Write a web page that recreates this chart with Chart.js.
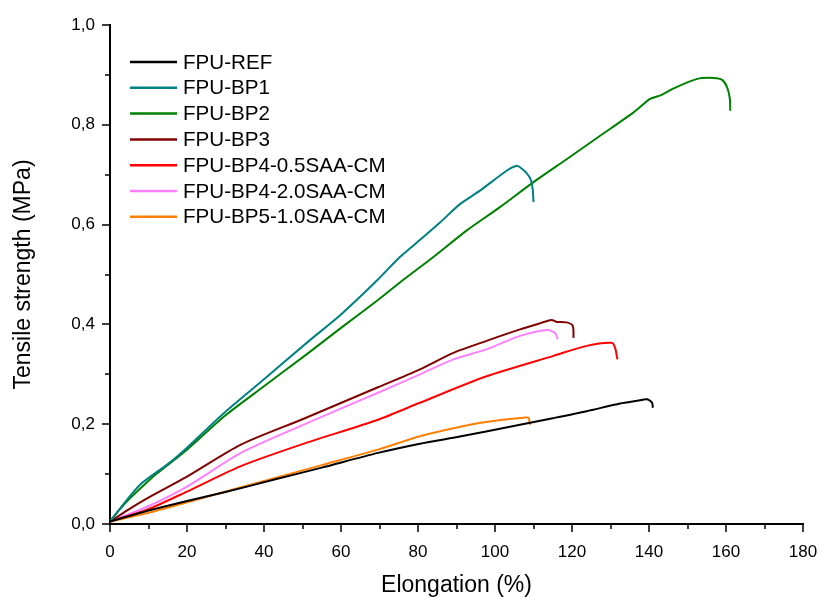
<!DOCTYPE html>
<html>
<head>
<meta charset="utf-8">
<script src="https://cdn.jsdelivr.net/npm/chart.js@4.4.1/dist/chart.umd.min.js"></script>
<style>
  html, body { margin: 0; padding: 0; background: #fff; }
</style>
</head>
<body>
<canvas id="myChart" width="822" height="599"></canvas>
<script>
// series labels and colours
const seriesNames = ['FPU-REF', 'FPU-BP1', 'FPU-BP2', 'FPU-BP3', 'FPU-BP4-0.5SAA-CM', 'FPU-BP4-2.0SAA-CM', 'FPU-BP5-1.0SAA-CM'];
const seriesColors = ['#000000', '#008080', '#008000', '#800000', '#ff0000', '#ff80ff', '#ff8000'];

// elongation (%) / tensile strength (MPa)
const refX = [0, 5, 10, 20, 30, 42.7, 55, 69.6, 80.5, 89.2, 98, 106.5, 115, 123.8, 132.5, 137, 139.5, 140.8, 141];
const refY = [0.005, 0.016, 0.027, 0.046, 0.064, 0.089, 0.113, 0.1425, 0.161, 0.173, 0.186, 0.199, 0.212, 0.226, 0.2416, 0.247, 0.25, 0.243, 0.233];

const bp1X = [0, 3, 8, 15, 20, 29.7, 40, 51.4, 60, 69.6, 75.3, 81.4, 85.7, 90.9, 96.1, 103, 105.6, 106.5, 108.2, 109.3, 109.8, 110];
const bp1Y = [0.005, 0.035, 0.08, 0.12, 0.153, 0.223, 0.29, 0.365, 0.42, 0.49, 0.535, 0.575, 0.604, 0.641, 0.668, 0.708, 0.718, 0.715, 0.703, 0.69, 0.67, 0.645];

const bp2X = [0, 2.6, 5, 8, 12, 20, 29.7, 40, 51.4, 60, 69.6, 75.3, 84, 92.6, 101.3, 110, 118.6, 127.3, 136, 140.3, 143, 146.4, 152.5, 156.8, 159, 160.3, 161, 161.1];
const bp2Y = [0.005, 0.03, 0.05, 0.072, 0.1, 0.149, 0.216, 0.276, 0.342, 0.393, 0.449, 0.484, 0.535, 0.588, 0.635, 0.685, 0.731, 0.778, 0.825, 0.852, 0.859, 0.873, 0.892, 0.894, 0.89, 0.875, 0.852, 0.828];

const bp3X = [0, 5, 9.75, 20, 34, 50, 69.6, 80.5, 89.2, 97.8, 106.5, 112, 114.7, 116, 118.6, 120.2, 120.4];
const bp3Y = [0.005, 0.03, 0.052, 0.095, 0.159, 0.21, 0.274, 0.31, 0.343, 0.367, 0.39, 0.403, 0.409, 0.405, 0.404, 0.397, 0.373];

const bp4aX = [0, 9.75, 20, 34, 50, 69.6, 80.5, 97.8, 115.2, 123.8, 130.3, 131.2, 131.8];
const bp4aY = [0.005, 0.029, 0.065, 0.116, 0.16, 0.209, 0.243, 0.296, 0.337, 0.357, 0.363, 0.353, 0.33];

const bp4bX = [0, 9.75, 20, 34, 50, 69.6, 80.5, 89.2, 97.8, 106.5, 113.4, 115.6, 116.3];
const bp4bY = [0.005, 0.035, 0.075, 0.1425, 0.198, 0.263, 0.30, 0.33, 0.35, 0.377, 0.389, 0.383, 0.37];

const bp5X = [0, 9.75, 25.4, 42.7, 55, 69.6, 80.5, 93.5, 100, 107.4, 108.7, 109.1];
const bp5Y = [0.005, 0.022, 0.055, 0.092, 0.118, 0.149, 0.176, 0.199, 0.207, 0.213, 0.213, 0.199];

// axis ticks
const xTicks = [0, 20, 40, 60, 80, 100, 120, 140, 160, 180];
const yTicks = [0, 0.2, 0.4, 0.6, 0.8, 1.0];

const allX = [refX, bp1X, bp2X, bp3X, bp4aX, bp4bX, bp5X];
const allY = [refY, bp1Y, bp2Y, bp3Y, bp4aY, bp4bY, bp5Y];

const fontName = "'Liberation Sans', Arial, sans-serif";

const datasets = seriesNames.map((name, i) => ({
  label: name,
  data: allX[i].map((x, j) => ({ x: x, y: allY[i][j] })),
  borderColor: seriesColors[i],
  backgroundColor: seriesColors[i],
  borderWidth: 2,
  pointRadius: 0,
  showLine: true,
  tension: 0.25,
  fill: false
}));

// outward major/minor tick marks
const tickMarks = {
  id: 'tickMarks',
  afterDraw(chart) {
    const ctx = chart.ctx;
    const xs = chart.scales.x, ys = chart.scales.y;
    ctx.save();
    ctx.strokeStyle = '#000';
    ctx.lineWidth = 1.5;
    ctx.beginPath();
    for (let v = xTicks[0]; v <= xTicks[xTicks.length - 1]; v += 10) {
      const px = Math.round(xs.getPixelForValue(v));
      const len = xTicks.includes(v) ? 8 : 5;
      ctx.moveTo(px, ys.bottom);
      ctx.lineTo(px, ys.bottom + len);
    }
    for (let k = 0; k <= 10; k++) {
      const v = k / 10;
      const py = Math.round(ys.getPixelForValue(v));
      const len = k % 2 === 0 ? 8 : 5;
      ctx.moveTo(xs.left, py);
      ctx.lineTo(xs.left - len, py);
    }
    ctx.stroke();
    ctx.restore();
  }
};

// legend drawn inside the plot, top-left
const innerLegend = {
  id: 'innerLegend',
  afterDraw(chart) {
    const ctx = chart.ctx;
    ctx.save();
    ctx.font = '20.6px ' + fontName;
    ctx.textBaseline = 'middle';
    ctx.textAlign = 'left';
    chart.data.datasets.forEach((ds, i) => {
      const y = 62 + i * 25.8;
      ctx.strokeStyle = ds.borderColor;
      ctx.lineWidth = 2.5;
      ctx.beginPath();
      ctx.moveTo(130, y);
      ctx.lineTo(177, y);
      ctx.stroke();
      ctx.fillStyle = '#000';
      ctx.fillText(ds.label, 183, y + 1);
    });
    ctx.restore();
  }
};

const comma = v => Number(v).toFixed(1).replace('.', ',');

const config = {
  type: 'scatter',
  data: { datasets: datasets },
  options: {
    responsive: false,
    animation: false,
    layout: { padding: { top: 25, right: 19, left: 0, bottom: 0 } },
    plugins: {
      legend: { display: false },
      tooltip: { enabled: false }
    },
    scales: {
      x: {
        type: 'linear',
        min: 0,
        max: 180,
        afterFit: s => { s.height = 75; s.paddingLeft = 0; s.paddingRight = 0; },
        afterBuildTicks: s => { s.ticks = xTicks.map(v => ({ value: v })); },
        ticks: {
          color: '#000',
          font: { family: fontName, size: 17 },
          padding: 18,
          maxRotation: 0,
          callback: v => String(v)
        },
        grid: { display: true, drawOnChartArea: false, drawTicks: false },
        border: { display: true, color: '#000', width: 2 },
        title: {
          display: true,
          text: 'Elongation (%)',
          color: '#000',
          font: { family: fontName, size: 23 },
          padding: { top: 0, bottom: 0 }
        }
      },
      y: {
        type: 'linear',
        min: 0,
        max: 1,
        afterFit: s => { s.width = 110; s.paddingTop = 0; s.paddingBottom = 0; },
        afterBuildTicks: s => { s.ticks = yTicks.map(v => ({ value: v })); },
        ticks: {
          color: '#000',
          font: { family: fontName, size: 17 },
          padding: 15,
          callback: v => comma(v)
        },
        grid: { display: true, drawOnChartArea: false, drawTicks: false },
        border: { display: true, color: '#000', width: 2 },
        title: {
          display: true,
          text: 'Tensile strength (MPa)',
          color: '#000',
          font: { family: fontName, size: 23 },
          padding: { top: 10, bottom: 0 }
        }
      }
    }
  },
  plugins: [tickMarks, innerLegend]
};

const myChart = new Chart(document.getElementById('myChart'), config);
</script>
</body>
</html>
